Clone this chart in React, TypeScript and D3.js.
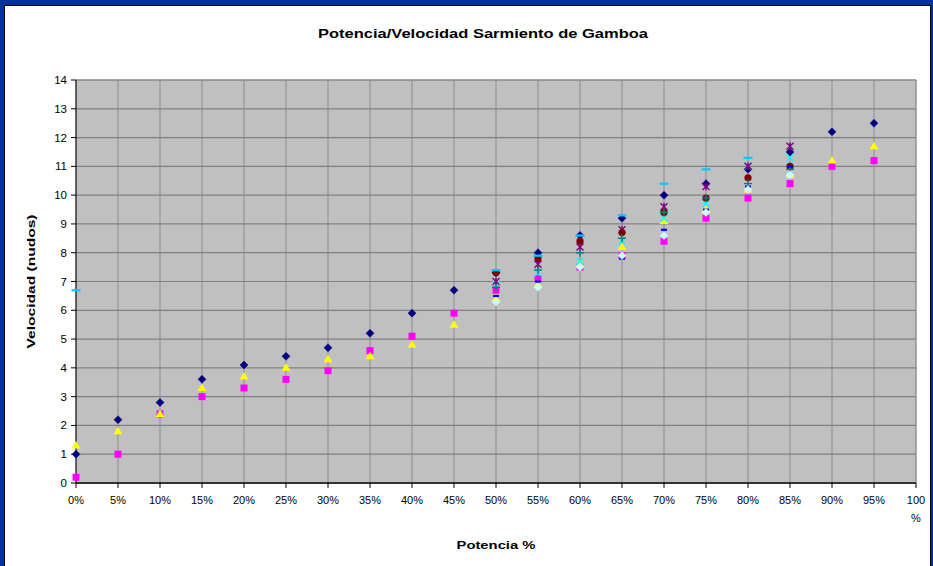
import React from "react";
import * as d3 from "d3";

const W = 933;
const H = 566;

const title = "Potencia/Velocidad Sarmiento de Gamboa";
const xTitle = "Potencia %";
const yTitle = "Velocidad (nudos)";

const xTicks = [0, 0.05, 0.1, 0.15, 0.2, 0.25, 0.3, 0.35, 0.4, 0.45, 0.5, 0.55, 0.6, 0.65, 0.7, 0.75, 0.8, 0.85, 0.9, 0.95, 1];
const yTicks = [0, 1, 2, 3, 4, 5, 6, 7, 8, 9, 10, 11, 12, 13, 14];

const potFull = [0, 0.05, 0.1, 0.15, 0.2, 0.25, 0.3, 0.35, 0.4, 0.45, 0.5, 0.55, 0.6, 0.65, 0.7, 0.75, 0.8, 0.85, 0.9, 0.95];
const potMid = [0.5, 0.55, 0.6, 0.65, 0.7, 0.75, 0.8, 0.85];
const potS9 = [0, 0.5, 0.55, 0.6, 0.65, 0.7, 0.75, 0.8];

const s1 = [1.0, 2.2, 2.8, 3.6, 4.1, 4.4, 4.7, 5.2, 5.9, 6.7, 7.3, 8.0, 8.6, 9.2, 10.0, 10.4, 10.9, 11.5, 12.2, 12.5];
const s2 = [0.2, 1.0, 2.4, 3.0, 3.3, 3.6, 3.9, 4.6, 5.1, 5.9, 6.7, 7.1, 7.5, 7.9, 8.4, 9.2, 9.9, 10.4, 11.0, 11.2];
const s3 = [1.3, 1.8, 2.4, 3.3, 3.7, 4.0, 4.3, 4.4, 4.8, 5.5, 6.4, 6.9, 7.6, 8.2, 9.1, 9.5, 10.2, 10.7, 11.2, 11.7];
const s4 = [6.9, 7.3, 7.7, 8.4, 9.2, 9.7, 11.0, 11.3];
const s5 = [7.0, 7.6, 8.2, 8.8, 9.6, 10.3, 11.0, 11.7];
const s6 = [7.3, 7.8, 8.4, 8.7, 9.4, 9.9, 10.6, 11.0];
const s7 = [6.8, 7.4, 8.0, 8.5, 9.4, 9.9, 10.4, 10.9];
const s8 = [6.5, 7.0, 7.5, 7.8, 8.8, 9.5, 10.3, 11.0];
const s9 = [6.7, 7.4, 7.9, 8.6, 9.3, 10.4, 10.9, 11.3];
const s10 = [6.3, 6.8, 7.5, 7.9, 8.6, 9.4, 10.2, 10.7];

type Series = { xs: number[]; ys: number[]; marker: string; color: string };

const series: Series[] = [
  { xs: potFull, ys: s1, marker: "diamond", color: "#000080" },
  { xs: potFull, ys: s2, marker: "square", color: "#FF00FF" },
  { xs: potFull, ys: s3, marker: "triangle", color: "#FFFF00" },
  { xs: potMid, ys: s4, marker: "x", color: "#00FFFF" },
  { xs: potMid, ys: s5, marker: "star", color: "#800080" },
  { xs: potMid, ys: s6, marker: "circle", color: "#800000" },
  { xs: potMid, ys: s7, marker: "plus", color: "#008080" },
  { xs: potMid, ys: s8, marker: "dash", color: "#0000FF" },
  { xs: potS9, ys: s9, marker: "longdash", color: "#00CCFF" },
  { xs: potMid, ys: s10, marker: "diamond", color: "#CCFFFF" },
];

const FONT = "'Liberation Sans', Arial, sans-serif";

function Marker({ type, color, cx, cy }: { type: string; color: string; cx: number; cy: number }) {
  const t = `translate(${cx},${cy})`;
  switch (type) {
    case "diamond":
      return <path transform={t} d="M0,-4L4,0L0,4L-4,0Z" fill={color} stroke={color} strokeWidth={0.5} />;
    case "square":
      return <rect x={cx - 3.5} y={cy - 3.5} width={7} height={7} fill={color} />;
    case "triangle":
      return <path transform={t} d="M0,-4.5L4.5,3L-4.5,3Z" fill={color} />;
    case "circle":
      return <circle cx={cx} cy={cy} r={3.6} fill={color} />;
    case "x":
      return <path transform={t} d="M-3.5,-3.5L3.5,3.5M3.5,-3.5L-3.5,3.5" stroke={color} strokeWidth={1.4} fill="none" />;
    case "star":
      return <path transform={t} d="M-3.5,-3.5L3.5,3.5M3.5,-3.5L-3.5,3.5M0,-4L0,4" stroke={color} strokeWidth={1.4} fill="none" />;
    case "plus":
      return <path transform={t} d="M-4,0L4,0M0,-4L0,4" stroke={color} strokeWidth={1.4} fill="none" />;
    case "dash":
      return <rect x={cx - 3} y={cy - 1} width={6} height={2.2} fill={color} />;
    case "longdash":
      return <rect x={cx - 4.5} y={cy - 1} width={9} height={2.2} fill={color} />;
    default:
      return null;
  }
}

export default function App() {
  const x = d3.scaleLinear().domain([0, 1]).range([76, 916]);
  const y = d3.scaleLinear().domain([0, 14]).range([483, 80]);
  const fmt = d3.format(".0%");

  return (
    <svg width={W} height={H} style={{ position: "absolute", left: 0, top: 0 }}>
      <rect x={0} y={0} width={W} height={H} fill="#003399" />
      <rect x={4.5} y={5.5} width={926} height={570} fill="#FFFFFF" stroke="#000000" strokeWidth={1} />

      <text x={483} y={38} textAnchor="middle" fontFamily={FONT} fontWeight="bold" fontSize={13.5} textLength={330} lengthAdjust="spacingAndGlyphs" fill="#000">
        {title}
      </text>

      {/* plot area */}
      <rect x={x(0)} y={y(14)} width={x(1) - x(0)} height={y(0) - y(14)} fill="#C0C0C0" stroke="#999999" strokeWidth={1} />

      {/* grid lines */}
      {xTicks.slice(1).map((t) => (
        <line key={"gx" + t} x1={x(t)} x2={x(t)} y1={y(14)} y2={y(0)} stroke="#8C8C8C" strokeWidth={1} />
      ))}
      {yTicks.slice(1).map((t) => (
        <line key={"gy" + t} x1={x(0)} x2={x(1)} y1={y(t)} y2={y(t)} stroke="#808080" strokeWidth={1.2} />
      ))}

      {/* axes */}
      <line x1={x(0)} x2={x(0)} y1={y(14)} y2={y(0)} stroke="#000" strokeWidth={1} />
      <line x1={x(0)} x2={x(1)} y1={y(0)} y2={y(0)} stroke="#333" strokeWidth={2} />
      {yTicks.map((t) => (
        <g key={"yt" + t}>
          <line x1={x(0) - 5} x2={x(0)} y1={y(t)} y2={y(t)} stroke="#000" />
          <text x={x(0) - 9} y={y(t)} dy="0.35em" textAnchor="end" fontFamily={FONT} fontSize={11.5} fill="#000">
            {t}
          </text>
        </g>
      ))}
      {xTicks.map((t) => (
        <g key={"xt" + t}>
          <line x1={x(t)} x2={x(t)} y1={y(0)} y2={y(0) + 5} stroke="#000" />
          {t < 1 ? (
            <text x={x(t)} y={504} textAnchor="middle" fontFamily={FONT} fontSize={11} fill="#000">
              {fmt(t)}
            </text>
          ) : (
            <text textAnchor="middle" fontFamily={FONT} fontSize={11} fill="#000">
              <tspan x={x(t)} y={504}>100</tspan>
              <tspan x={x(t)} y={522}>%</tspan>
            </text>
          )}
        </g>
      ))}

      <text x={496} y={549} textAnchor="middle" fontFamily={FONT} fontWeight="bold" fontSize={11.5} textLength={79} lengthAdjust="spacingAndGlyphs" fill="#000">
        {xTitle}
      </text>
      <text
        transform={`translate(35,${(y(0) + y(14)) / 2}) rotate(-90)`}
        textAnchor="middle"
        fontFamily={FONT}
        fontWeight="bold"
        fontSize={11.5}
        textLength={134}
        lengthAdjust="spacingAndGlyphs"
        fill="#000"
      >
        {yTitle}
      </text>

      {/* markers */}
      {series.map((s, si) => (
        <g key={"s" + si}>
          {s.ys.map((v, i) => (
            <Marker key={i} type={s.marker} color={s.color} cx={x(s.xs[i])} cy={y(v)} />
          ))}
        </g>
      ))}
    </svg>
  );
}
